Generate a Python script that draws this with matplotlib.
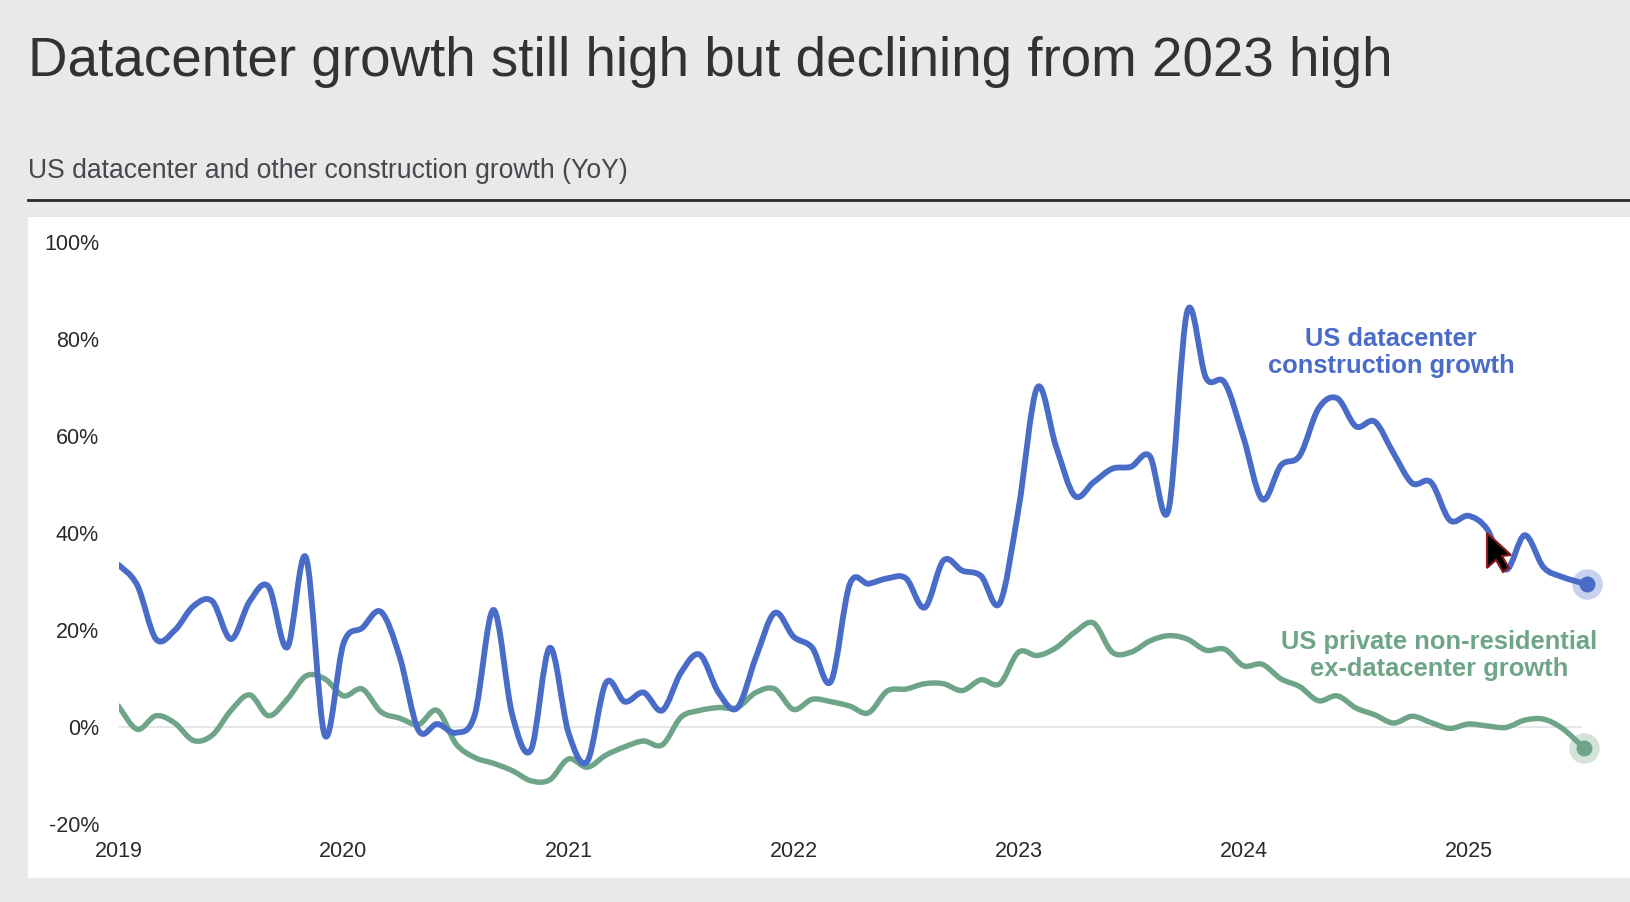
import numpy as np
import matplotlib
matplotlib.use('Agg')
import matplotlib.pyplot as plt
from matplotlib.patches import PathPatch, Rectangle, Polygon
from matplotlib.path import Path

W, H = 1630, 902
BG = '#e8e9ea'
BLUE = '#4a6cc9'
GREEN = '#6ea487'

plt.rcParams['font.family'] = ['Liberation Sans', 'DejaVu Sans']

years = [2019, 2020, 2021, 2022, 2023, 2024, 2025]
y_ticks = [-20, 0, 20, 40, 60, 80, 100]

# monthly readings, Jan 2019 to Jul 2025
datacenter = [33.5, 29.3, 18.2, 20, 25, 26, 18.2, 26, 29, 16.5, 35, -1.6,
              17.3, 20.5, 23.8, 14.5, -0.6, 0.7, -1.1, 2.6, 24.2, 2.6, -4.6, 16.4,
              -1.1, -7, 9.2, 5.3, 7.2, 3.5, 11.3, 15, 7.2, 4, 14.5, 23.6,
              18.7, 16.4, 9.5, 29.5, 29.6, 30.7, 30.7, 24.7, 34.4, 32.3, 31.2, 25.6,
              45, 70, 57.9, 47.7, 50.5, 53.3, 53.7, 55.9, 44.8, 85.7, 72, 71,
              59.7, 47, 54, 56, 65.7, 67.8, 62, 63, 56.5, 50.3, 50.5, 42.7,
              43.6, 40.8, 32.5, 39.6, 33, 31, 29.5]
other = [4.4, -0.4, 2.4, 0.9, -2.7, -1.6, 3.5, 6.7, 2.4, 5.8, 10.6, 10,
         6.5, 7.9, 3.2, 1.9, 0.6, 3.5, -3.4, -6.2, -7.4, -8.9, -11, -10.8,
         -6.5, -8.2, -5.7, -4, -2.8, -3.6, 2.1, 3.5, 4.1, 4.1, 7.2, 7.9,
         3.7, 5.8, 5.3, 4.4, 3, 7.5, 7.9, 9, 9, 7.6, 9.8, 9,
         15.5, 14.8, 16.4, 19.6, 21.5, 15.5, 15.5, 17.8, 18.9, 18.2, 15.9, 16.1,
         12.7, 13, 10, 8.4, 5.5, 6.5, 4, 2.6, 0.9, 2.3, 1, -0.2,
         0.7, 0.3, 0, 1.5, 1.7, -0.2, -4.2]
# the two series end a little apart on the time axis
datacenter_months = np.r_[np.arange(78), 78.3]
other_months = np.r_[np.arange(78), 78.15]


def smooth_path(x, y):
    # catmull-rom as bezier segments, the chart uses a curved line type
    p = np.column_stack([x, y]).astype(float)
    verts = [p[0]]
    codes = [Path.MOVETO]
    for i in range(len(p) - 1):
        t0 = p[i + 1] - p[max(i - 1, 0)]
        t1 = p[min(i + 2, len(p) - 1)] - p[i]
        verts += [p[i] + t0 / 6, p[i + 1] - t1 / 6, p[i + 1]]
        codes += [Path.CURVE4] * 3
    return Path(verts, codes)


fig = plt.figure(figsize=(W / 100, H / 100), dpi=100, facecolor=BG)

# white panel and header rule
fig.add_artist(Rectangle((28 / W, 1 - 878 / H), (W - 28) / W, (878 - 217) / H,
                         transform=fig.transFigure, fc='white', ec='none', zorder=-1))
fig.add_artist(plt.Line2D([28 / W, 1], [1 - 200 / H] * 2, color='#2b2d30', lw=2))

fig.text(28 / W, 1 - 62 / H, 'Datacenter growth still high but declining from 2023 high',
         fontsize=39.45, color='#323234', va='center', ha='left')
fig.text(28 / W, 1 - 171 / H, 'US datacenter and other construction growth (YoY)',
         fontsize=19.1, color='#47484b', va='center', ha='left')

left, right, top, bottom = 118.5, W, 242, 824.5
ax = fig.add_axes([left / W, 1 - bottom / H, (right - left) / W, (bottom - top) / H])
ax.patch.set_alpha(0)
for s in ax.spines.values():
    s.set_visible(False)
ax.set_xlim(0, (right - left) / 18.75)
ax.set_ylim(-20, 100)

ax.set_xticks(np.arange(len(years)) * 12, [str(v) for v in years])
ax.set_yticks(y_ticks, [f'{v}%' for v in y_ticks])
ax.tick_params(axis='both', length=0, labelsize=15.5, labelcolor='#2a2a2c')
ax.tick_params(axis='x', pad=12)
ax.tick_params(axis='y', pad=14)

ax.plot([0, 78], [0, 0], color='#e2e2e4', lw=1.2, zorder=1)

for x, series, color, lw in [(other_months, other, GREEN, 3.9), (datacenter_months, datacenter, BLUE, 4.2)]:
    ax.add_patch(PathPatch(smooth_path(x, series), fc='none', ec=color, lw=lw,
                           capstyle='round', joinstyle='round', zorder=3))
    ax.plot(x[-1], series[-1], 'o', ms=22, color=color, alpha=0.3, mec='none', zorder=4, clip_on=False)
    ax.plot(x[-1], series[-1], 'o', ms=11.5, color=color, mec='none', zorder=5, clip_on=False)

fig.text(1391 / W, 1 - 352.5 / H, 'US datacenter\nconstruction growth', color=BLUE, fontsize=18.4,
         fontweight='bold', ha='center', va='center', linespacing=1.2)
fig.text(1439 / W, 1 - 655.5 / H, 'US private non-residential\nex-datacenter growth', color=GREEN,
         fontsize=18.4, fontweight='bold', ha='center', va='center', linespacing=1.2)

# mouse pointer caught in the screen grab
pointer = np.array([[1487, 533], [1487, 568], [1496, 560], [1503, 572], [1509, 568],
                    [1502, 556], [1511, 555]], dtype=float)
pointer[:, 0] /= W
pointer[:, 1] = 1 - pointer[:, 1] / H
fig.add_artist(Polygon(pointer, closed=True, transform=fig.transFigure, fc='black',
                       ec='#8f1a20', lw=1.5, zorder=10))

fig.savefig('out.png', dpi=100)
